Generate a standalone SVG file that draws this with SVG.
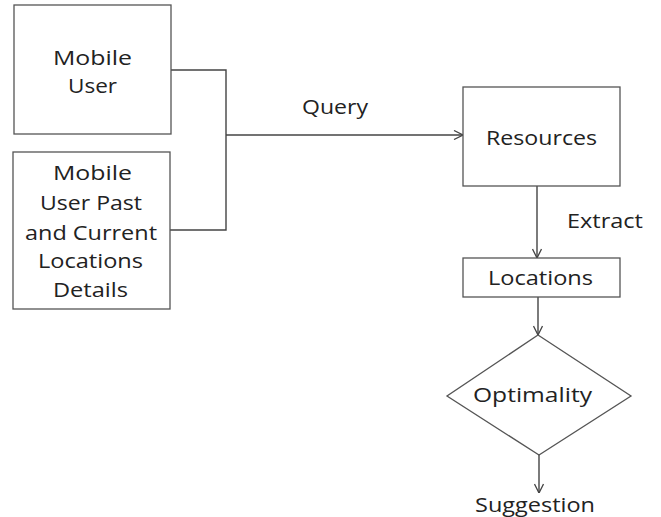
<svg xmlns="http://www.w3.org/2000/svg" width="661" height="517" viewBox="0 0 661 517">
<style>
.box{fill:#fff;stroke:#555;stroke-width:1.3}
.ln{fill:none;stroke:#444;stroke-width:1.4}
text{font-family:"Open Sans","Liberation Sans",sans-serif;font-size:20px;fill:#222;text-anchor:middle}
</style>
<defs>
<marker id="arr" viewBox="0 0 10 10" refX="10" refY="5" markerWidth="10" markerHeight="10" markerUnits="userSpaceOnUse" orient="auto">
<path d="M1,0.5 L10,5 L1,9.5" fill="none" stroke="#444" stroke-width="1.3"/>
</marker>
</defs>
<rect width="661" height="517" fill="#fff"/>
<g id="connectors">
<polyline class="ln" points="171,70 226,70 226,230 170,230"/>
<line class="ln" x1="226" y1="135" x2="463" y2="135" marker-end="url(#arr)"/>
<text x="335" y="114" textLength="66" lengthAdjust="spacingAndGlyphs">Query</text>
<line class="ln" x1="537" y1="186" x2="537" y2="258" marker-end="url(#arr)"/>
<text x="605" y="228" textLength="76" lengthAdjust="spacingAndGlyphs">Extract</text>
<line class="ln" x1="538" y1="297" x2="538" y2="335" marker-end="url(#arr)"/>
<line class="ln" x1="539" y1="455" x2="539" y2="493" marker-end="url(#arr)"/>
</g>
<g id="mobile-user">
<rect class="box" x="14" y="5" width="157" height="129"/>
<text x="92.5" y="65" textLength="79" lengthAdjust="spacingAndGlyphs">Mobile</text>
<text x="92.5" y="93" textLength="49" lengthAdjust="spacingAndGlyphs">User</text>
</g>
<g id="past-locations">
<rect class="box" x="13" y="152" width="157" height="157"/>
<text x="92.5" y="180" textLength="79" lengthAdjust="spacingAndGlyphs">Mobile</text>
<text x="91" y="210" textLength="102" lengthAdjust="spacingAndGlyphs">User Past</text>
<text x="91" y="240" textLength="132" lengthAdjust="spacingAndGlyphs">and Current</text>
<text x="90.5" y="268" textLength="105" lengthAdjust="spacingAndGlyphs">Locations</text>
<text x="90.5" y="297" textLength="75" lengthAdjust="spacingAndGlyphs">Details</text>
</g>
<g id="resources">
<rect class="box" x="463" y="87" width="157" height="99"/>
<text x="541.5" y="145" textLength="111" lengthAdjust="spacingAndGlyphs">Resources</text>
</g>
<g id="locations">
<rect class="box" x="463" y="258" width="157" height="39"/>
<text x="540.5" y="285" textLength="105" lengthAdjust="spacingAndGlyphs">Locations</text>
</g>
<g id="optimality">
<polygon class="box" points="538,335 631,396 539,455 447,396"/>
<text x="532.5" y="402" textLength="119" lengthAdjust="spacingAndGlyphs">Optimality</text>
</g>
<g id="suggestion">
<text x="535" y="512" textLength="120" lengthAdjust="spacingAndGlyphs">Suggestion</text>
</g>
</svg>
